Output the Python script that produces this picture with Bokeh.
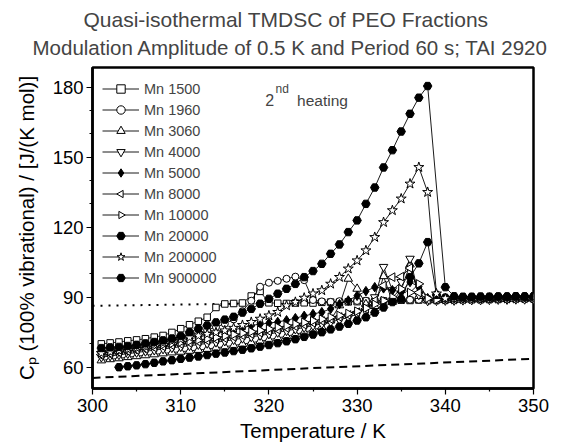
import math
from bokeh.plotting import figure
from bokeh.models import (Range1d, FixedTicker, Legend, LegendItem, Title, Label,
                          ColumnDataSource)
from bokeh.embed import file_html
from bokeh.resources import INLINE

FONT = "Liberation Sans"

# ---------------- data ----------------
T = list(range(301, 351))

mn1500 = [70.0, 70.4, 70.8, 71.3, 71.7, 72.2, 72.9, 73.6, 74.9, 76.5,
          78.2, 79.7, 81.4, 85.6, 87.1, 87.3, 87.5, 90.5, 92.5, 87.6,
          87.4, 87.3, 87.5, 87.6, 87.5, 87.8, 87.9, 87.8, 88.0, 88.1,
          88.3, 88.2, 88.4, 88.6, 88.7, 88.6, 88.8, 88.9, 89.0, 89.0,
          89.1, 89.2, 89.2, 89.3, 89.3, 89.4, 89.5, 89.5, 89.6, 89.6]
mn1960 = [67.0, 67.5, 68.1, 68.7, 69.3, 70.0, 70.6, 71.3, 72.1, 72.9,
          73.8, 74.8, 75.9, 77.2, 78.6, 80.5, 84.0, 88.5, 94.5, 96.2,
          97.0, 97.9, 98.8, 97.3, 88.8, 88.2, 88.0, 88.3, 88.2, 88.4,
          88.5, 88.6, 88.5, 88.7, 88.8, 88.9, 88.9, 89.0, 89.1, 89.2,
          89.2, 89.3, 89.4, 89.4, 89.5, 89.5, 89.6, 89.7, 89.7, 89.8]
mn3060 = [62.9, 63.4, 63.8, 64.3, 64.7, 65.1, 65.5, 65.9, 66.3, 66.6,
          67.0, 67.4, 67.8, 68.3, 68.8, 69.3, 69.9, 70.5, 71.1, 71.8,
          72.5, 73.3, 74.1, 75.0, 76.0, 77.2, 80.0, 86.5, 97.9, 93.6,
          87.0, 86.2, 99.0, 88.0, 93.0, 104.0, 90.5, 88.6, 88.7, 88.8,
          88.8, 88.9, 89.0, 89.0, 89.1, 89.1, 89.2, 89.3, 89.3, 89.4]
mn4000 = [64.3, 64.8, 65.3, 65.8, 66.3, 66.8, 67.3, 67.8, 68.3, 68.8,
          69.2, 69.7, 70.2, 70.7, 71.2, 71.8, 72.4, 73.0, 73.6, 74.2,
          74.9, 75.6, 76.3, 77.0, 77.8, 78.6, 79.4, 80.3, 81.3, 82.8,
          85.5, 90.0, 103.0, 93.0, 96.5, 106.5, 91.0, 88.4, 88.5, 88.6,
          88.6, 88.7, 88.8, 88.8, 88.9, 89.0, 89.0, 89.1, 89.1, 89.2]
mn5000 = [65.6, 66.1, 66.6, 67.1, 67.7, 68.3, 69.0, 69.7, 70.5, 71.3,
          72.1, 72.9, 73.7, 74.4, 75.2, 76.0, 76.9, 77.9, 78.4, 78.9,
          79.4, 80.1, 81.0, 82.0, 82.8, 83.6, 85.0, 87.0, 88.6, 90.6,
          92.6, 94.3, 93.8, 93.0, 92.2, 96.5, 94.5, 89.6, 89.3, 89.4,
          89.5, 89.5, 89.6, 89.7, 89.7, 89.8, 89.8, 89.9, 90.0, 90.0]
mn8000 = [65.4, 65.9, 66.4, 66.9, 67.4, 67.9, 68.4, 68.9, 69.4, 69.9,
          70.4, 70.9, 71.4, 71.9, 72.4, 73.0, 73.6, 74.2, 74.8, 75.4,
          76.1, 76.8, 77.5, 78.2, 79.0, 79.8, 80.6, 81.5, 82.4, 83.6,
          85.0, 88.5, 95.0, 98.6, 98.8, 102.5, 92.0, 88.8, 88.9, 89.0,
          89.0, 89.1, 89.2, 89.2, 89.3, 89.4, 89.4, 89.5, 89.5, 89.6]
mn10000 = [66.2, 66.7, 67.2, 67.7, 68.2, 68.7, 69.2, 69.7, 70.2, 70.7,
           71.2, 71.7, 72.2, 72.8, 73.4, 74.0, 74.6, 75.2, 75.8, 76.4,
           77.1, 77.8, 78.5, 79.2, 79.9, 80.6, 81.4, 82.2, 83.0, 84.0,
           85.3, 87.0, 88.5, 90.0, 93.5, 92.0, 95.7, 89.5, 88.9, 89.0,
           89.0, 89.1, 89.1, 89.2, 89.3, 89.3, 89.4, 89.4, 89.5, 89.5]
T20000 = list(range(303, 351))
mn20000 = [60.0, 60.4, 60.8, 61.3, 61.9, 62.5, 63.0, 63.6, 64.1, 64.6,
           65.2, 65.8, 66.3, 66.9, 67.5, 68.1, 68.8, 69.5, 70.3, 71.1,
           72.0, 73.0, 74.0, 75.0, 76.2, 77.4, 78.6, 80.0, 81.4, 83.4,
           85.6, 87.9, 89.2, 98.6, 104.5, 113.6, 91.0, 89.8, 89.8, 89.9,
           90.0, 90.0, 90.1, 90.2, 90.2, 90.3, 90.3, 90.4]
mn200000 = [66.0, 66.6, 67.2, 67.8, 68.4, 69.0, 69.7, 70.4, 71.2, 72.0,
            72.8, 73.5, 74.2, 74.9, 75.7, 76.8, 78.0, 79.3, 80.7, 82.1,
            83.6, 86.4, 87.9, 89.7, 91.5, 92.9, 95.7, 98.6, 102.2, 105.7,
            110.0, 115.7, 122.1, 127.2, 132.2, 138.6, 145.7, 135.0, 91.5, 89.5,
            89.4, 89.5, 89.6, 89.6, 89.7, 89.7, 89.8, 89.8, 89.9, 89.9]
T900000 = list(range(301, 339)) + list(range(340, 351))
mn900000 = [68.2, 68.5, 68.7, 69.1, 69.6, 70.2, 70.8, 71.5, 72.3, 73.4,
            75.0, 76.5, 77.9, 79.2, 80.4, 81.6, 83.4, 85.0, 87.2, 89.3,
            91.5, 93.6, 95.7, 98.6, 101.2, 104.3, 108.6, 112.6, 117.9, 122.9,
            130.0, 137.0, 145.6, 153.0, 161.0, 168.6, 175.5, 180.5,
            94.3, 90.4, 90.2, 90.2, 90.3, 90.2, 90.3, 90.3, 90.4, 90.3, 90.3]

# reference curves
vib_T = [300, 312.5, 325, 337.5, 350]
vib_cp = [55.4, 57.5, 59.6, 61.6, 63.6]
liq_T = [300, 350]
liq_cp = [86.3, 89.0]

x_ticks = [300, 310, 320, 330, 340, 350]
x_minor = [305, 315, 325, 335, 345]
y_ticks = [60, 90, 120, 150, 180]
y_minor = [70, 80, 100, 110, 130, 140, 160, 170]

# marker spec: ("ngon", angle) draws a rotated triangle
series = [
    ("Mn 1500", T, mn1500, "square", 0, "white", 6.5),
    ("Mn 1960", T, mn1960, "circle", 0, "white", 7),
    ("Mn 3060", T, mn3060, "triangle", 0, "white", 8.5),
    ("Mn 4000", T, mn4000, "inverted_triangle", 0, "white", 8.5),
    ("Mn 5000", T, mn5000, "diamond", 0, "black", 9.5),
    ("Mn 8000", T, mn8000, "ngon", math.pi / 2, "white", 5),
    ("Mn 10000", T, mn10000, "ngon", -math.pi / 2, "white", 5),
    ("Mn 20000", T20000, mn20000, "hex", 0, "black", 8.5),
    ("Mn 200000", T, mn200000, "star", 0, "white", 10.5),
    ("Mn 900000", T900000, mn900000, "hex", 0, "black", 8.5),
]

# ---------------- figure ----------------
p = figure(width=562, height=444, title=None,
           x_range=Range1d(300, 350), y_range=Range1d(50.87, 188.44),
           output_backend="svg", toolbar_location=None,
           min_border_left=92, min_border_right=29,
           min_border_top=67, min_border_bottom=56)
p.background_fill_color = "white"
p.border_fill_color = "white"
p.grid.visible = False
p.outline_line_color = "black"
p.outline_line_width = 2.5

for ax in (p.xaxis[0], p.yaxis[0]):
    ax.axis_line_color = "black"
    ax.axis_line_width = 2.5
    ax.major_tick_in = 0
    ax.major_tick_out = 6
    ax.minor_tick_in = 0
    ax.minor_tick_out = 3
    ax.major_tick_line_width = 1.2
    ax.minor_tick_line_width = 1.2
    ax.major_label_text_font = FONT
    ax.major_label_text_font_size = "18.5px"
    ax.major_label_text_color = "black"
    ax.axis_label_text_font = FONT
    ax.axis_label_text_font_size = "20.5px"
    ax.axis_label_text_font_style = "normal"
    ax.axis_label_text_color = "black"

p.xaxis.ticker = FixedTicker(ticks=x_ticks, minor_ticks=x_minor)
p.yaxis.ticker = FixedTicker(ticks=y_ticks, minor_ticks=y_minor)
p.xaxis.axis_label = "Temperature / K"
p.yaxis.axis_label = "C\u209a (100% vibrational) / [J/(K mol)]"
p.xaxis.major_label_standoff = 4
p.yaxis.major_label_standoff = 3
p.xaxis.axis_label_standoff = 4
p.yaxis.axis_label_standoff = 12

# reference lines
p.line(vib_T, vib_cp, line_color="black", line_width=2, line_dash="8 5")
p.line(liq_T, liq_cp, line_color="black", line_width=2, line_dash="2 6")

items = []
for label, xs, ys, marker, ang, fill, size in series:
    src = ColumnDataSource(dict(x=xs, y=ys))
    lr = p.line("x", "y", source=src, line_color="black", line_width=0.9)
    if marker == "ngon":
        sr = p.ngon("x", "y", source=src, radius=size, radius_units="screen",
                    n=3, angle=ang, line_color="black", line_width=1,
                    fill_color=fill)
    else:
        sr = p.scatter("x", "y", source=src, marker=marker, size=size,
                       line_color="black", line_width=1, fill_color=fill)
    items.append(LegendItem(label=label, renderers=[lr, sr]))

legend = Legend(items=items, location=(10, 100), orientation="vertical",
                glyph_width=37, glyph_height=21, label_height=21,
                spacing=0, padding=5, margin=0, label_standoff=5,
                border_line_color=None, background_fill_alpha=0,
                label_text_font=FONT, label_text_font_size="14.5px")
p.add_layout(legend)

# "2nd heating" annotation
p.add_layout(Label(x=319.6, y=174.3, text="2", text_font=FONT,
                   text_font_size="16px", text_baseline="alphabetic"))
p.add_layout(Label(x=320.75, y=179.3, text="nd", text_font=FONT,
                   text_font_size="12px", text_baseline="alphabetic"))
p.add_layout(Label(x=323.2, y=174.3, text="heating", text_font=FONT,
                   text_font_size="15.5px", text_baseline="alphabetic"))

# two-line title (added bottom line first)
p.add_layout(Title(text="Modulation Amplitude of 0.5 K and Period 60 s; TAI 2920",
                   align="left", offset=-60, text_font=FONT,
                   text_font_size="20.5px", text_font_style="normal",
                   standoff=17), "above")
p.add_layout(Title(text="Quasi-isothermal TMDSC of PEO Fractions",
                   align="left", offset=-9, text_font=FONT,
                   text_font_size="21px", text_font_style="normal",
                   standoff=-10), "above")

open("out.html", "w").write(file_html(p, INLINE))
